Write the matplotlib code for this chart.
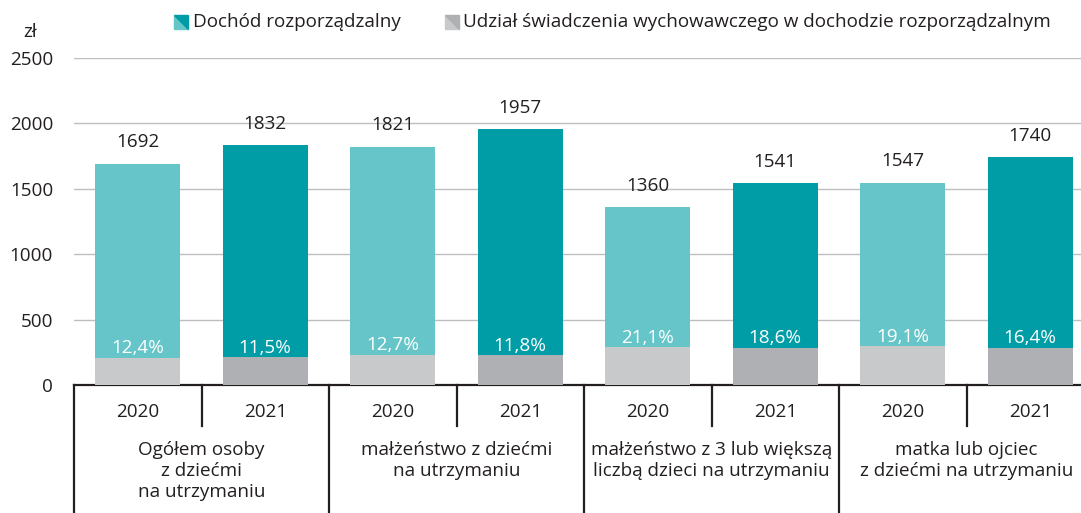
import numpy as np
import matplotlib.pyplot as plt
from matplotlib.patches import Polygon
from matplotlib.transforms import blended_transform_factory

plt.rcParams['font.family'] = ['Open Sans', 'DejaVu Sans']
plt.rcParams['font.size'] = 13.6

# data
groups = ['Ogółem osoby\nz dziećmi\nna utrzymaniu',
          'małżeństwo z dziećmi\nna utrzymaniu',
          'małżeństwo z 3 lub większą\nliczbą dzieci na utrzymaniu',
          'matka lub ojciec\nz dziećmi na utrzymaniu']
years = ['2020', '2021']
income_2020 = [1692, 1821, 1360, 1547]
income_2021 = [1832, 1957, 1541, 1740]
share_2020 = [12.4, 12.7, 21.1, 19.1]
share_2021 = [11.5, 11.8, 18.6, 16.4]

teal = {'2020': '#66C5C8', '2021': '#019DA6'}
grey = {'2020': '#C8C9CB', '2021': '#AFB0B3'}
text_col = '#231F20'

fig = plt.figure(figsize=(10.81, 5.13), dpi=100)
W, H = 1081, 513
ax = fig.add_axes([74 / W, (H - 385) / H, 1020 / W, 327 / H])

n = len(groups)
income = {'2020': income_2020, '2021': income_2021}
share = {'2020': share_2020, '2021': share_2021}
bw = 0.67
for j, yr in enumerate(years):
    xs = np.arange(n) * 2 + j + 0.5
    vals = np.array(income[yr])
    part = vals * np.array(share[yr]) / 100
    ax.bar(xs, vals, width=bw, color=teal[yr], zorder=2)
    ax.bar(xs, part, width=bw, color=grey[yr], zorder=3)
    for x, v, p, s in zip(xs, vals, part, share[yr]):
        ax.text(x, v + 95, f'{v}', ha='center', va='bottom', color=text_col)
        ax.text(x, p + 2, f'{s:.1f}%'.replace('.', ','), ha='center',
                va='bottom', color='white')

ax.set_xlim(0, 2 * n)
ax.set_ylim(0, 2500)
ax.set_yticks(np.arange(0, 2501, 500))
ax.yaxis.grid(True, color='#BDBEC0', linewidth=1)
ax.set_axisbelow(True)
for s in ['top', 'right', 'left']:
    ax.spines[s].set_visible(False)
ax.spines['bottom'].set_color(text_col)
ax.spines['bottom'].set_linewidth(1.6)
ax.tick_params(axis='y', length=0, pad=15, colors=text_col)
ax.set_xticks([])

# category axis below
tr = blended_transform_factory(ax.transData, ax.transAxes)
for g in range(n + 1):
    ax.plot([2 * g, 2 * g], [0, -0.4], transform=tr, color=text_col,
            lw=1.6, clip_on=False)
for g in range(n):
    ax.plot([2 * g + 1, 2 * g + 1], [0, -0.125], transform=tr,
            color=text_col, lw=1.6, clip_on=False)
    for j, yr in enumerate(years):
        ax.text(2 * g + j + 0.5, -0.082, yr, transform=tr, ha='center',
                va='center', color=text_col)
    ax.text(2 * g + 1, -0.172, groups[g], transform=tr, ha='center',
            va='top', color=text_col, linespacing=1.2)

fig.text(30 / W, 1 - 32 / H, 'zł', ha='center', va='center', color=text_col)

# legend
def legend_icon(x0, y0, light, dark):
    s = 14
    pts = lambda p: [(a / W, 1 - b / H) for a, b in p]
    fig.add_artist(Polygon(pts([(x0, y0), (x0, y0 + s), (x0 + s, y0 + s)]),
                           closed=True, color=light, transform=fig.transFigure))
    fig.add_artist(Polygon(pts([(x0, y0), (x0 + s, y0), (x0 + s, y0 + s)]),
                           closed=True, color=dark, transform=fig.transFigure))

legend_icon(174, 15, teal['2020'], teal['2021'])
fig.text(193 / W, 1 - 22 / H, 'Dochód rozporządzalny', va='center',
         color=text_col)
legend_icon(445, 15, grey['2020'], grey['2021'])
fig.text(463 / W, 1 - 22 / H,
         'Udział świadczenia wychowawczego w dochodzie rozporządzalnym',
         va='center', color=text_col)

fig.savefig('out.png', dpi=100)
